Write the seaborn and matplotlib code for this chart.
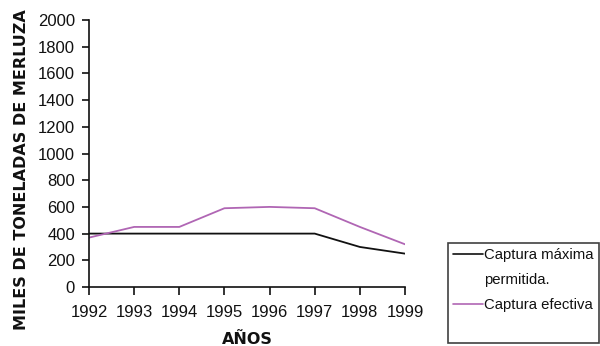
import matplotlib
matplotlib.use("Agg")
import matplotlib.pyplot as plt
from matplotlib.lines import Line2D
import seaborn as sns
import pandas as pd

# Datos de captura de merluza (miles de toneladas)
anios = [1992, 1993, 1994, 1995, 1996, 1997, 1998, 1999]
captura_maxima = [400, 400, 400, 400, 400, 400, 300, 250]
captura_efectiva = [370, 450, 450, 590, 600, 590, 450, 320]
yticks = [0, 200, 400, 600, 800, 1000, 1200, 1400, 1600, 1800, 2000]

df = pd.DataFrame({
    "anio": anios * 2,
    "valor": captura_maxima + captura_efectiva,
    "serie": ["Captura máxima permitida."] * len(anios)
             + ["Captura efectiva"] * len(anios),
})

sns.set_theme(style="ticks")
plt.rcParams["font.family"] = ["Liberation Sans", "DejaVu Sans"]

fig = plt.figure(figsize=(6.0, 3.46), dpi=100)
ax = fig.add_axes([89 / 600, 1 - 287 / 346, (405 - 89) / 600, (287 - 20) / 346])

sns.lineplot(data=df, x="anio", y="valor", hue="serie",
             palette={"Captura máxima permitida.": "#111111",
                      "Captura efectiva": "#b066b4"},
             linewidth=1.3, ax=ax, legend=False)

ax.set_xlim(1992, 1999)
ax.set_ylim(0, 2000)
ax.set_xticks(anios)
ax.set_xticklabels([str(a) for a in anios])
ax.set_yticks(yticks)
ax.tick_params(axis="both", labelsize=12, width=1.2, length=5, pad=5,
               colors="#111111")
ax.tick_params(axis="x", length=6, pad=7)
for s in ("top", "right"):
    ax.spines[s].set_visible(False)
for s in ("left", "bottom"):
    ax.spines[s].set_color("#111111")
    ax.spines[s].set_linewidth(1.2)
ax.set_xlabel("")
ax.set_ylabel("")

fig.text(22 / 600, 1 - 170 / 346, "MILES DE TONELADAS DE MERLUZA",
         rotation=90, ha="center", va="center", fontsize=11.5,
         fontweight="bold", family="DejaVu Sans", color="#111111")
fig.text(247 / 600, 1 - 339 / 346, "AÑOS", ha="center", va="center",
         fontsize=11.5, fontweight="bold", family="DejaVu Sans",
         color="#111111")

handles = [
    Line2D([], [], color="#111111", lw=1.2),
    Line2D([], [], color="none", lw=0),
    Line2D([], [], color="#b066b4", lw=1.2),
    Line2D([], [], color="none", lw=0),
]
labels = ["Captura máxima", "permitida.", "Captura efectiva", " "]
leg = fig.legend(handles, labels, loc="upper left",
                 bbox_to_anchor=(448 / 600, 1 - 243 / 346),
                 frameon=True, fancybox=False, fontsize=10.7,
                 handlelength=2.0, handletextpad=0.1, borderpad=0.35,
                 labelspacing=0.75, borderaxespad=0)
leg.get_frame().set_edgecolor("#111111")
leg.get_frame().set_linewidth(1.2)
for t in leg.get_texts():
    t.set_color("#111111")

fig.savefig("out.png", dpi=100)
